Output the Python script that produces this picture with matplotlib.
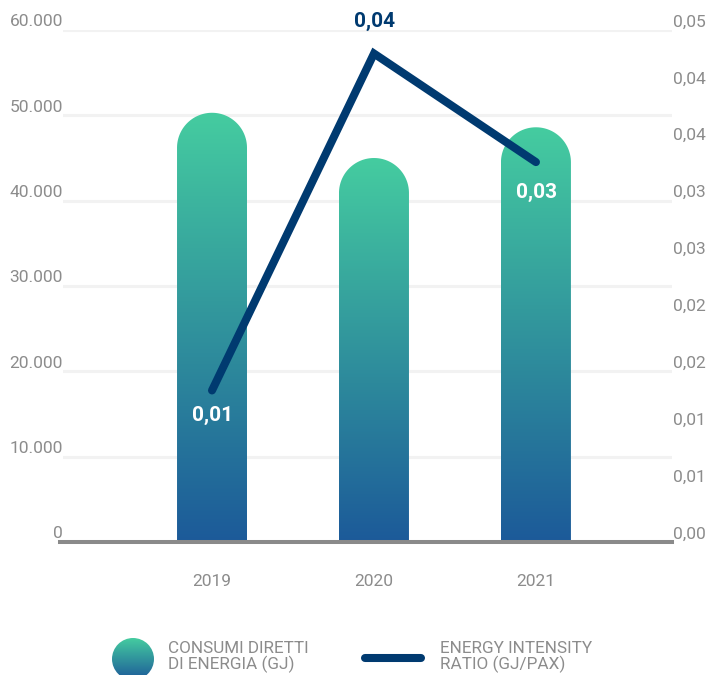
import numpy as np
import matplotlib
matplotlib.use('Agg')
import matplotlib.pyplot as plt
from matplotlib.colors import LinearSegmentedColormap
from matplotlib.path import Path
from matplotlib.patches import PathPatch, Circle
from matplotlib.lines import Line2D

plt.rcParams['font.family'] = ['Roboto', 'DejaVu Sans']

YEARS = ['2019', '2020', '2021']
CONSUMI_GJ = [50300, 45000, 48600]          # consumi diretti di energia (GJ)
INTENSITY = [0.0148, 0.0477, 0.0371]        # energy intensity ratio (GJ/PAX)

LEFT_TICKS = [0, 10000, 20000, 30000, 40000, 50000, 60000]
RIGHT_MAX = 0.05
RIGHT_N = 10

GREY = '#8c8c8c'
NAVY = '#003a70'
GRAD = LinearSegmentedColormap.from_list('bar', ['#1c5a99', '#45cca0'])

W, H, DPI = 712, 675, 100
AX_L, AX_R, AX_T, AX_B = 63, 672, 30, 542      # plot area in pixels
XMIN, XMAX = -0.92, 2.84
BAR_W = 0.432


def fmt_it(v):
    return f'{v:,.0f}'.replace(',', '.')


def trunc2(v):
    # data labels show the value cut to two decimals
    return f'{np.floor(v * 100) / 100:.2f}'.replace('.', ',')


fig = plt.figure(figsize=(W / DPI, H / DPI), dpi=DPI)
ax = fig.add_axes([AX_L / W, 1 - AX_B / H, (AX_R - AX_L) / W, (AX_B - AX_T) / H])
ax.set_xlim(XMIN, XMAX)
ax.set_ylim(0, LEFT_TICKS[-1])
ax.axis('off')

# light grid
for v in LEFT_TICKS[1:]:
    ax.axhline(v, color='#f2f2f2', lw=2.2, zorder=0)

# bars: vertical gradient with a rounded top
px_x = (AX_R - AX_L) / (XMAX - XMIN)
px_y = (AX_B - AX_T) / LEFT_TICKS[-1]
rx = BAR_W / 2
ry = rx * px_x / px_y
grad = np.linspace(0, 1, 256).reshape(-1, 1)
theta = np.linspace(np.pi, 0, 60)
for i, v in enumerate(CONSUMI_GJ):
    x0, x1 = i - rx, i + rx
    arc = np.column_stack([i + rx * np.cos(theta), v - ry + ry * np.sin(theta)])
    verts = np.vstack([[x0, 0], arc, [x1, 0], [x0, 0]])
    codes = [Path.MOVETO] + [Path.LINETO] * (len(verts) - 2) + [Path.CLOSEPOLY]
    clip = PathPatch(Path(verts, codes), facecolor='none', edgecolor='none',
                     transform=ax.transData)
    ax.add_patch(clip)
    im = ax.imshow(grad, cmap=GRAD, origin='lower', aspect='auto',
                   extent=[x0, x1, 0, v], zorder=2)
    im.set_clip_path(clip)
ax.set_xlim(XMIN, XMAX)
ax.set_ylim(0, LEFT_TICKS[-1])

# baseline
ax.add_line(Line2D([-3 / (AX_R - AX_L), 1], [0, 0], transform=ax.get_yaxis_transform(),
                   color='#8a8a8a', lw=2.9, clip_on=False, zorder=3))

# left axis labels
for v in LEFT_TICKS:
    ax.annotate(fmt_it(v), xy=(0, v), xycoords=('axes fraction', 'data'),
                xytext=(0, 8), textcoords='offset pixels', ha='right', va='center',
                fontsize=12.5, color=GREY)

# year labels
for i, y in enumerate(YEARS):
    ax.annotate(y, xy=(i, 0), xytext=(0, -40), textcoords='offset pixels',
                ha='center', va='center', fontsize=12.5, color=GREY)

# energy intensity line on the right axis
ax2 = ax.twinx()
ax2.set_xlim(XMIN, XMAX)
ax2.set_ylim(0, RIGHT_MAX)
ax2.axis('off')
xs = np.arange(len(YEARS))
ax2.plot(xs, INTENSITY, color=NAVY, lw=5.8, solid_capstyle='round',
         solid_joinstyle='miter', zorder=4)

for v in np.linspace(0, RIGHT_MAX, RIGHT_N):
    ax2.annotate(f'{v:.2f}'.replace('.', ','), xy=(1, v),
                 xycoords=('axes fraction', 'data'), xytext=(1, 8),
                 textcoords='offset pixels', ha='left', va='center',
                 fontsize=12.5, color=GREY)

label_style = [(-25, 'white'), (32, NAVY), (-30, 'white')]
for i, (v, (dy, col)) in enumerate(zip(INTENSITY, label_style)):
    ax2.annotate(trunc2(v), xy=(i, v), xytext=(1, dy), textcoords='offset pixels',
                 ha='center', va='center', fontsize=15, fontweight='bold',
                 color=col, zorder=5)

# legend
lg = fig.add_axes([112 / W, 1 - 680 / H, 42 / W, 42 / H])
lg.axis('off')
lg.set_xlim(0, 1)
lg.set_ylim(0, 1)
dot = Circle((0.5, 0.5), 0.5, transform=lg.transAxes, facecolor='none',
             edgecolor='none')
lg.add_patch(dot)
gi = lg.imshow(grad, cmap=GRAD, origin='lower', aspect='auto', extent=[0, 1, 0, 1])
gi.set_clip_path(dot)

fig.add_artist(Line2D([365 / W, 421 / W], [1 - 658 / H, 1 - 658 / H],
                      color=NAVY, lw=5.8, solid_capstyle='round'))
fig.text(168 / W, 1 - 657 / H, 'CONSUMI DIRETTI\nDI ENERGIA (GJ)', ha='left',
         va='center', fontsize=12.3, color=GREY, linespacing=1.0)
fig.text(440 / W, 1 - 657 / H, 'ENERGY INTENSITY\nRATIO (GJ/PAX)', ha='left',
         va='center', fontsize=12.3, color=GREY, linespacing=1.0)

fig.savefig('out.png', dpi=DPI)
